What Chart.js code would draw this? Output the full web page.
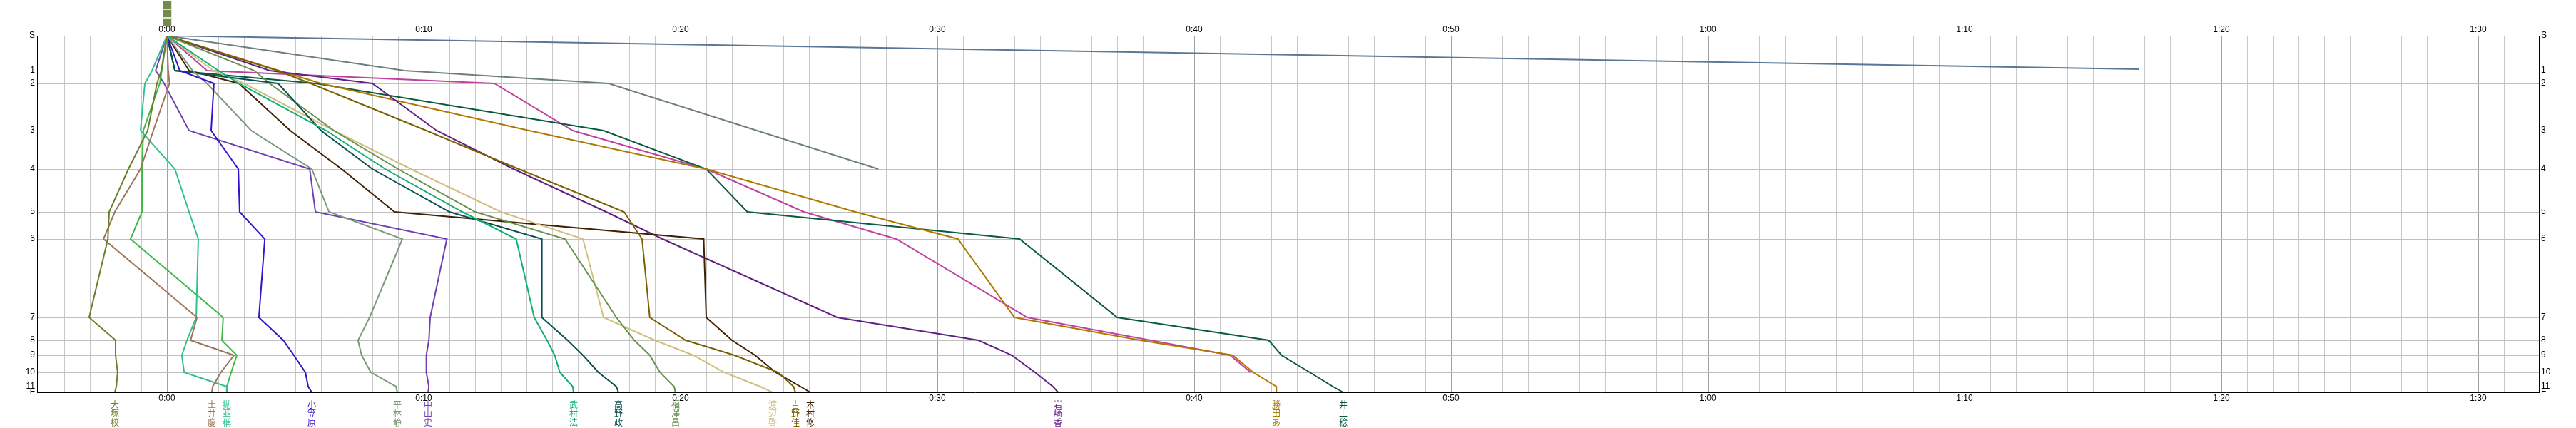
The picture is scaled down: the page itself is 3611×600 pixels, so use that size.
<!DOCTYPE html>
<html>
<head>
<meta charset="utf-8">
<script src="https://cdn.jsdelivr.net/npm/chart.js@4.4.1/dist/chart.umd.min.js"></script>
<style>
  html, body { margin: 0; padding: 0; background: #fff; }
</style>
</head>
<body>
<canvas id="race" width="3611" height="600"></canvas>
<script>
// stations (labels) and their distance position along the course
const stations = ['S', '1', '2', '3', '4', '5', '6', '7', '8', '9', '10', '11', 'F'];
const stationDist = [0, 49, 67, 133, 187, 247, 285, 395, 427, 448, 472, 492, 500];

// split times in minutes at each station (S .. F), null = not passed
const otsuka    = [0, -0.22, -0.39, -0.75, -1.5, -2.25, -2.3, -3.03, -2.0, -2.0, -1.92, -1.97, -2.03];
const doi       = [0, 0.05, 0.1, -0.53, -1.03, -2.03, -2.47, 1.17, 0.92, 2.61, 2.1, 1.78, 1.75];
const tealRun   = [0, -0.58, -0.86, -1.03, 0.31, 0.86, 1.22, 1.14, 0.78, 0.58, 0.67, 2.33, 2.33];
const greenRun  = [0, -0.2, -0.28, -0.92, -0.97, -0.97, -1.42, 2.19, 2.14, 2.72, 2.5, 2.33, 2.33];
const ogasawara = [0, 0.5, 1.83, 1.72, 2.78, 2.83, 3.81, 3.58, 4.53, 4.94, 5.39, 5.5, 5.64];
const hirabayashi = [0, 1.0, 1.56, 3.28, 5.64, 6.31, 9.17, 7.89, 7.44, 7.58, 7.94, 8.92, 8.97];
const nakayama  = [0, -0.44, -0.11, 0.86, 5.56, 5.78, 10.9, 10.25, 10.2, 10.1, 10.1, 10.2, 10.17];
const takemura  = [0, 2.0, 2.8, 6.2, 8.5, 11.5, 13.6, 14.3, 14.8, 15.1, 15.3, 15.8, 15.83];
const takano    = [0, 0.31, 4.33, 6.0, 8.0, 11.0, 14.6, 14.6, 15.6, 16.2, 16.8, 17.5, 17.58];
const fukuzawa  = [0, 3.4, 4.0, 6.5, 9.0, 12.0, 15.5, 17.5, 18.2, 18.8, 19.2, 19.75, 19.8];
const watanabe  = [0, 1.8, 3.0, 6.5, 9.5, 13.0, 16.2, 17.0, 19.0, 20.5, 21.7, 23.1, 23.58];
const yoshino   = [0, 4.3, 5.6, 10.1, 13.7, 17.8, 18.5, 18.8, 20.2, 22.1, 23.8, 24.4, 24.47];
const kimura    = [0, 0.86, 2.8, 4.8, 6.8, 8.86, 20.9, 21.0, 22.0, 22.9, 23.7, 24.67, 25.05];
const iwasaki   = [0, 4.0, 8.0, 10.5, 13.5, 17.1, 19.3, 26.1, 31.6, 32.9, 33.8, 34.5, 34.7];
const katsuta   = [0, 4.36, 6.0, 14.1, 21.0, 26.8, 30.8, 33.0, 37.9, 41.5, 42.3, 43.2, 43.2];
const inoue     = [0, 0.31, 5.8, 17.0, 21.0, 22.6, 33.2, 37.0, 42.9, 43.4, 44.5, 45.4, 45.8];
const pinkRun   = [0, 1.56, 12.75, 15.8, 21.0, 24.8, 28.4, 33.5, 38.3, 41.4, 42.2, null, null];
const grayRun   = [0, 9.25, 17.2, null, 27.7, null, null, null, null, null, null, null, null];
// runner still on the first leg
const slowTimes = [0, 76.8];
const slowDist  = [0, 47];

const runners = [
  ['大塚校', '#6b7f2a', otsuka],
  ['土井慶', '#9c7458', doi],
  ['拋韮稱', '#30c090', tealRun],
  ['', '#40b848', greenRun],
  ['小笠原', '#3a10d0', ogasawara],
  ['平林静', '#7a9a7a', hirabayashi],
  ['中山史', '#7040b0', nakayama],
  ['武村法', '#10b070', takemura],
  ['高野政', '#0a5050', takano],
  ['福澤昌', '#6a9050', fukuzawa],
  ['渡辺啓', '#d0c080', watanabe],
  ['吉野佳', '#7a6000', yoshino],
  ['木村修', '#402000', kimura],
  ['岩崎香', '#602080', iwasaki],
  ['勝田あ', '#b07800', katsuta],
  ['井上稔', '#0a5a40', inoue],
  ['', '#c040a0', pinkRun],
  ['', '#6e7e7e', grayRun]
];

const X_MIN = -5.056, X_MAX = 92.36;

const datasets = runners.map(([name, color, times]) => ({
  label: name,
  data: times.map((t, i) => ({ x: t, y: stationDist[i] })).filter(p => p.x !== null),
  borderColor: color,
  borderWidth: 2,
  pointRadius: 0,
  tension: 0,
  fill: false
}));
datasets.push({
  label: '',
  data: slowTimes.map((t, i) => ({ x: t, y: slowDist[i] })),
  borderColor: '#5a7896',
  borderWidth: 2,
  pointRadius: 0,
  tension: 0,
  fill: false
});

const minuteTicks = [];
for (let m = -5; m <= 92; m++) minuteTicks.push(m);

function fmtTime(v) {
  const h = Math.floor(v / 60), m = v % 60;
  return h + ':' + String(m).padStart(2, '0');
}

const tickFont = { family: 'Liberation Sans', size: 12 };

// vertical names under each finisher, and the marker boxes above the start
const namesPlugin = {
  id: 'names',
  afterDatasetsDraw(chart) {
    const ctx = chart.ctx;
    const xs = chart.scales.x;
    ctx.save();
    ctx.font = '12px "Noto Sans CJK JP"';
    ctx.textAlign = 'center';
    ctx.textBaseline = 'middle';
    runners.forEach(([name, color, times]) => {
      const last = times[times.length - 1];
      if (!name || last === null) return;
      const px = Math.round(xs.getPixelForValue(last));
      ctx.fillStyle = color;
      [...name].forEach((ch, i) => ctx.fillText(ch, px, 567 + i * 12.5));
    });
    const x0 = Math.round(xs.getPixelForValue(0));
    [2, 14, 26].forEach(y => {
      ctx.fillStyle = '#748a4a';
      ctx.fillRect(x0 - 5, y, 11, 10);
      ctx.strokeStyle = '#d8e8c8';
      ctx.strokeRect(x0 - 5.5, y - 0.5, 12, 11);
    });
    ctx.restore();
  }
};

const xAxis = (pos) => ({
  type: 'linear',
  position: pos,
  min: X_MIN,
  max: X_MAX,
  afterBuildTicks: s => { s.ticks = minuteTicks.map(v => ({ value: v })); },
  afterFit: s => { s.height = 50; },
  ticks: {
    autoSkip: false,
    maxRotation: 0,
    padding: 1,
    color: '#000',
    font: tickFont,
    callback: v => (v % 10 === 0 && v >= 0) ? fmtTime(v) : ''
  },
  grid: {
    display: pos === 'bottom',
    drawTicks: false,
    color: c => (c.tick && c.tick.value % 10 === 0) ? '#a0a0a0' : '#c8c8c8'
  },
  border: { color: '#000', width: 1 }
});

const yAxis = (pos) => ({
  type: 'linear',
  position: pos,
  reverse: true,
  min: 0,
  max: 500,
  afterBuildTicks: s => { s.ticks = stationDist.map(v => ({ value: v })); },
  afterFit: s => { s.width = 52; },
  ticks: {
    autoSkip: false,
    padding: 3,
    color: '#000',
    font: tickFont,
    callback: v => stations[stationDist.indexOf(v)]
  },
  grid: { display: pos === 'left', drawTicks: false, color: '#c0c0c0' },
  border: { color: '#000', width: 1 }
});

new Chart(document.getElementById('race'), {
  type: 'line',
  data: { datasets },
  options: {
    responsive: false,
    animation: false,
    layout: { padding: 0 },
    spanGaps: true,
    plugins: { legend: { display: false }, tooltip: { enabled: false } },
    scales: {
      x: xAxis('bottom'),
      xTop: xAxis('top'),
      y: yAxis('left'),
      yRight: yAxis('right')
    }
  },
  plugins: [namesPlugin]
});
</script>
</body>
</html>
